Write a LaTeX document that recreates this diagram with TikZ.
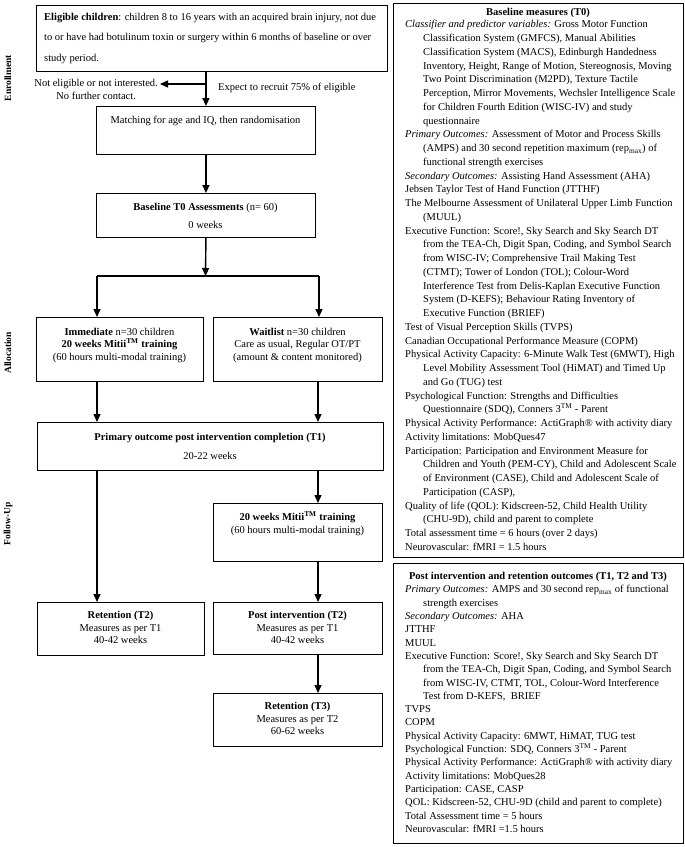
\documentclass[tikz,border=0pt]{standalone}
\usepackage{fontspec}
\setmainfont{Liberation Serif}
\usetikzlibrary{arrows.meta}
\newcommand\hgi{\hspace*{18pt}}
\newcommand\tmk{\textsuperscript{TM}}
\begin{document}
\begin{tikzpicture}[x=1pt,y=-1pt,
  box/.style={draw, line width=0.9pt, inner sep=0pt, anchor=north west},
  rbox/.style={draw, line width=1.3pt, inner sep=0pt, anchor=north west},
  txt/.style={inner sep=0pt, font=\fontsize{10.5}{12.5}\selectfont},
  body/.style={inner sep=0pt, align=left, anchor=north west, font=\fontsize{10.5}{13.75}\selectfont},
  side/.style={inner sep=0pt, rotate=90, font=\bfseries\fontsize{9.5}{11}\selectfont},
  arr/.style={line width=1.4pt, -{Triangle[length=8pt,width=7pt]}},
  ln/.style={line width=1.4pt}]
\useasboundingbox (0,0) rectangle (685,847);

% side labels
\node[side] (lenr) at (8,78) {Enrollment};
\node[side] (lall) at (8,353) {Allocation};
\node[side] (lfol) at (8,524) {Follow-Up};

% left column boxes
\node[box, minimum width=351, minimum height=66] (elig) at (36,5) {};
\node[txt, align=left, anchor=west, font=\fontsize{10.5}{20.5}\selectfont] (eligt) at (44,38) {\textbf{Eligible children}: children 8 to 16 years with an acquired brain injury, not due\\to or have had botulinum toxin or surgery within 6 months of baseline or over\\study period.};

\node[box, minimum width=219, minimum height=48] (match) at (96,106) {};
\node[txt] (matcht) at (205.5,121) {Matching for age and IQ, then randomisation};

\node[box, minimum width=219, minimum height=44] (base) at (96,193) {};
\node[txt, align=center, font=\fontsize{10.5}{18}\selectfont] (baset) at (205.5,216) {\textbf{Baseline T0 Assessments} (n= 60)\\0 weeks};

\node[box, minimum width=167, minimum height=64] (imm) at (36,317) {};
\node[txt, align=center] (immt) at (119.5,345) {\textbf{Immediate} n=30 children\\\textbf{20 weeks Mitii\tmk{} training}\\(60 hours multi-modal training)};

\node[box, minimum width=169, minimum height=64] (wait) at (213,317) {};
\node[txt, align=center] (waitt) at (297.5,345) {\textbf{Waitlist} n=30 children\\Care as usual, Regular OT/PT\\(amount \& content monitored)};

\node[box, minimum width=346, minimum height=48] (t1) at (37,422) {};
\node[txt, align=center, font=\fontsize{10.5}{19}\selectfont] (t1t) at (210,446.5) {\textbf{Primary outcome post intervention completion (T1)}\\20-22 weeks};

\node[box, minimum width=169, minimum height=58] (mit) at (213,503) {};
\node[txt, align=center] (mitt) at (297.5,523.5) {\textbf{20 weeks Mitii\tmk{} training}\\(60 hours multi-modal training)};

\node[box, minimum width=167, minimum height=53] (ret2) at (37,602) {};
\node[txt, align=center] (ret2t) at (120.5,627.5) {\textbf{Retention (T2)}\\Measures as per T1\\40-42 weeks};

\node[box, minimum width=169, minimum height=52] (post2) at (213,602) {};
\node[txt, align=center] (post2t) at (297.5,627.5) {\textbf{Post intervention (T2)}\\Measures as per T1\\40-42 weeks};

\node[box, minimum width=169, minimum height=53] (ret3) at (213,693) {};
\node[txt, align=center] (ret3t) at (297.5,718.5) {\textbf{Retention (T3)}\\Measures as per T2\\60-62 weeks};

% side texts for enrollment split
\node[txt, align=center, anchor=north east] (notel) at (158,79.5) {Not eligible or not interested.\\No further contact.};
\node[txt, anchor=west] (expect) at (218,88) {Expect to recruit 75\% of eligible};

% connectors
\coordinate (sp) at (205.5,84);
\coordinate (brc) at (205.5,276);
\coordinate (brl) at (97,276);
\coordinate (brr) at (319,276);
\coordinate (cl) at (97,0);
\coordinate (cr) at (318,0);

\draw[arr] (elig.south -| match.north) -- (match.north);
\draw[arr] (sp) -- ([xshift=2pt]sp -| notel.east);
\draw[arr] (match.south) -- (base.north);
\draw[arr] (base.south) -- (brc);
\draw[ln] (brl) -- (brr);
\draw[arr] (brl) -- (brl |- imm.north);
\draw[arr] (brr) -- (brr |- wait.north);
\draw[arr] (imm.south -| cl) -- (t1.north -| cl);
\draw[arr] (wait.south -| cr) -- (t1.north -| cr);
\draw[arr] (t1.south -| cl) -- (ret2.north -| cl);
\draw[arr] (t1.south -| cr) -- (mit.north -| cr);
\draw[arr] (mit.south -| cr) -- (post2.north -| cr);
\draw[arr] (post2.south -| cr) -- (ret3.north -| cr);

% right column
\node[rbox, minimum width=290, minimum height=554] (bm) at (393,3) {};
\node[txt] (bmt) at (538,12.5) {\textbf{Baseline measures (T0)}};
\node[body] (bmb) at (405,20.3) {%
\textit{Classifier and predictor variables:} Gross Motor Function\\
\hgi Classification System (GMFCS), Manual Abilities\\
\hgi Classification System (MACS), Edinburgh Handedness\\
\hgi Inventory, Height, Range of Motion, Stereognosis, Moving\\
\hgi Two Point Discrimination (M2PD), Texture Tactile\\
\hgi Perception, Mirror Movements, Wechsler Intelligence Scale\\
\hgi for Children Fourth Edition (WISC-IV) and study\\
\hgi questionnaire\\
\textit{Primary Outcomes:} Assessment of Motor and Process Skills\\
\hgi (AMPS) and 30 second repetition maximum (rep\textsubscript{max}) of\\
\hgi functional strength exercises\\
\textit{Secondary Outcomes:} Assisting Hand Assessment (AHA)\\
Jebsen Taylor Test of Hand Function (JTTHF)\\
The Melbourne Assessment of Unilateral Upper Limb Function\\
\hgi (MUUL)\\
Executive Function: Score!, Sky Search and Sky Search DT\\
\hgi from the TEA-Ch, Digit Span, Coding, and Symbol Search\\
\hgi from WISC-IV; Comprehensive Trail Making Test\\
\hgi (CTMT); Tower of London (TOL); Colour-Word\\
\hgi Interference Test from Delis-Kaplan Executive Function\\
\hgi System (D-KEFS); Behaviour Rating Inventory of\\
\hgi Executive Function (BRIEF)\\
Test of Visual Perception Skills (TVPS)\\
Canadian Occupational Performance Measure (COPM)\\
Physical Activity Capacity: 6-Minute Walk Test (6MWT), High\\
\hgi Level Mobility Assessment Tool (HiMAT) and Timed Up\\
\hgi and Go (TUG) test\\
Psychological Function: Strengths and Difficulties\\
\hgi Questionnaire (SDQ), Conners 3\tmk{} - Parent\\
Physical Activity Performance: ActiGraph® with activity diary\\
Activity limitations: MobQues47\\
Participation: Participation and Environment Measure for\\
\hgi Children and Youth (PEM-CY), Child and Adolescent Scale\\
\hgi of Environment (CASE), Child and Adolescent Scale of\\
\hgi Participation (CASP),\\
Quality of life (QOL): Kidscreen-52, Child Health Utility\\
\hgi (CHU-9D), child and parent to complete\\
Total assessment time = 6 hours (over 2 days)\\
Neurovascular: fMRI = 1.5 hours};

\node[rbox, minimum width=290, minimum height=280] (pr) at (393,563) {};
\node[txt] (prt) at (538,577) {\textbf{Post intervention and retention outcomes (T1, T2 and T3)}};
\node[body, font=\fontsize{10.5}{13.3}\selectfont] (prb) at (405,585.3) {%
\textit{Primary Outcomes:} AMPS and 30 second rep\textsubscript{max} of functional\\
\hgi strength exercises\\
\textit{Secondary Outcomes:} AHA\\
JTTHF\\
MUUL\\
Executive Function: Score!, Sky Search and Sky Search DT\\
\hgi from the TEA-Ch, Digit Span, Coding, and Symbol Search\\
\hgi from WISC-IV, CTMT, TOL, Colour-Word Interference\\
\hgi Test from D-KEFS,\ \ BRIEF\\
TVPS\\
COPM\\
Physical Activity Capacity: 6MWT, HiMAT, TUG test\\
Psychological Function: SDQ, Conners 3\tmk{} - Parent\\
Physical Activity Performance: ActiGraph® with activity diary\\
Activity limitations: MobQues28\\
Participation: CASE, CASP\\
QOL: Kidscreen-52, CHU-9D (child and parent to complete)\\
Total Assessment time = 5 hours\\
Neurovascular: fMRI =1.5 hours};
\end{tikzpicture}
\end{document}
